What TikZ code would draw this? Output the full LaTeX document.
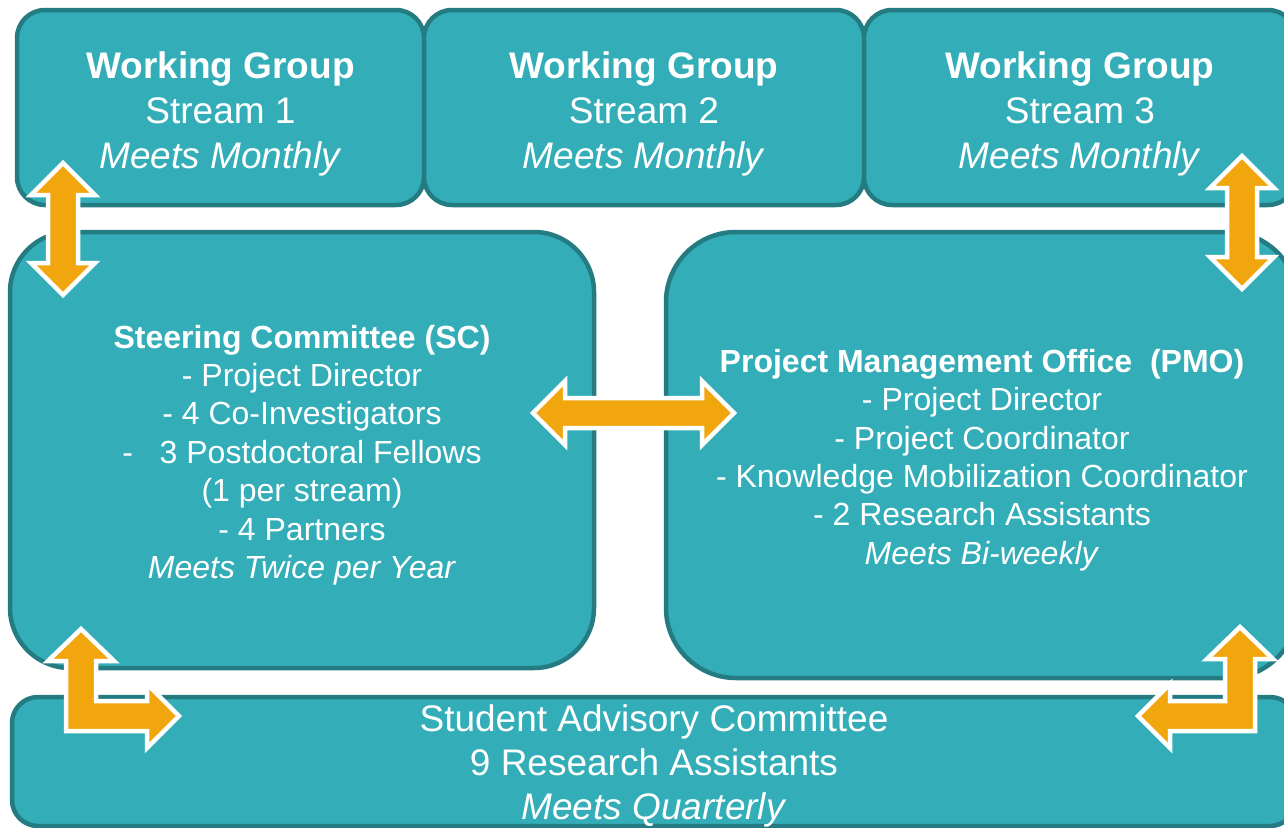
\documentclass[tikz,border=0pt]{standalone}
\usepackage{fontspec}
\setmainfont{Liberation Sans}
\definecolor{boxfill}{RGB}{51,174,184}
\definecolor{boxline}{RGB}{36,124,130}
\definecolor{arrowfill}{RGB}{242,166,14}
\begin{document}
\begin{tikzpicture}[x=1pt,y=-1pt,
  panel/.style={draw=boxline, fill=boxfill, line width=4.5pt, inner sep=0pt},
  txt/.style={text=white, align=center, inner sep=0pt},
  arrowshape/.style={draw=white, fill=arrowfill, line width=4.5pt, line join=miter},
  big/.style={font=\fontsize{37}{45}\selectfont},
  sacfont/.style={font=\fontsize{37}{44}\selectfont},
  mid/.style={font=\fontsize{32}{38.4}\selectfont}]
\useasboundingbox (0,0) rectangle (1284,827);
\fill[white] (0,0) rectangle (1284,827);

% Working groups
\node[panel, rounded corners=28pt, minimum width=407pt, minimum height=195pt] (wg1) at (220.5,107.5) {};
\node[panel, rounded corners=28pt, minimum width=440pt, minimum height=195pt] (wg2) at (644,107.5) {};
\node[panel, rounded corners=28pt, minimum width=432pt, minimum height=195pt] (wg3) at (1080,107.5) {};
\node[txt, big, yshift=-6pt] (wg1t) at (wg1.center) {\textbf{Working Group}\\Stream 1\\\textit{Meets Monthly}};
\node[txt, big, yshift=-6pt] (wg2t) at (wg2.center) {\textbf{Working Group}\\Stream 2\\\textit{Meets Monthly}};
\node[txt, big, yshift=-6pt] (wg3t) at (wg3.center) {\textbf{Working Group}\\Stream 3\\\textit{Meets Monthly}};

% Steering Committee
\node[panel, rounded corners=60pt, minimum width=584pt, minimum height=436pt] (sc) at (302,450) {};
\node[txt, mid, yshift=-5pt] (sct) at (sc.center)
  {\textbf{Steering Committee (SC)}\\- Project Director\\- 4 Co-Investigators\\-\ \ \ 3 Postdoctoral Fellows\\(1 per stream)\\- 4 Partners\\\textit{Meets Twice per Year}};

% Project Management Office
\node[panel, rounded corners=70pt, minimum width=632pt, minimum height=446pt] (pmo) at (982,455) {};
\node[txt, mid, yshift=-5pt] (pmot) at (pmo.center)
  {\textbf{Project Management Office\ \ (PMO)}\\- Project Director\\- Project Coordinator\\- Knowledge Mobilization Coordinator\\- 2 Research Assistants\\\textit{Meets Bi-weekly}};

% Student Advisory Committee
\node[panel, rounded corners=26pt, minimum width=1284pt, minimum height=129pt] (sac) at (654,761.5) {};
\node[txt, sacfont, yshift=-4pt] (sact) at (sac.center)
  {Student Advisory Committee\\9 Research Assistants\\\textit{Meets Quarterly}};

% Arrows
\draw[arrowshape] (63,163) -- (95,195) -- (78,195) -- (78,263) -- (95,263) -- (63,295) -- (31,263) -- (48,263) -- (48,195) -- (31,195) -- cycle;
\draw[arrowshape] (1242,156) -- (1274,188) -- (1257,188) -- (1257,257) -- (1274,257) -- (1242,289) -- (1210,257) -- (1227,257) -- (1227,188) -- (1210,188) -- cycle;
\draw[arrowshape] (533,413) -- (565,381) -- (565,398) -- (702,398) -- (702,381) -- (734,413) -- (702,445) -- (702,428) -- (565,428) -- (565,445) -- cycle;
\draw[arrowshape] (81,629) -- (114,661) -- (96,661) -- (96,701) -- (147,701) -- (147,684) -- (179,716) -- (147,748) -- (147,731) -- (66,731) -- (66,661) -- (48,661) -- cycle;
\draw[arrowshape] (1240,627) -- (1273,659) -- (1255,659) -- (1255,731) -- (1170,731) -- (1170,748) -- (1138,716) -- (1170,684) -- (1170,701) -- (1225,701) -- (1225,659) -- (1207,659) -- cycle;
\end{tikzpicture}
\end{document}
